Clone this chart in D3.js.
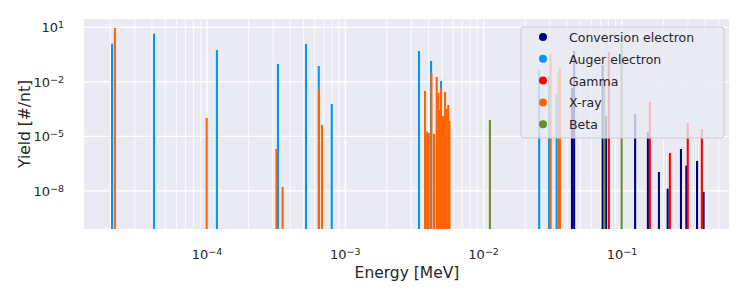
<!DOCTYPE html>
<html>
<head>
<meta charset="utf-8">
<script src="https://cdn.jsdelivr.net/npm/d3@7"></script>
<style>
  body { margin: 0; background: #fff; }
  svg text { font-family: "DejaVu Sans", sans-serif; fill: #262626; }
</style>
</head>
<body>
<svg id="chart" width="750" height="300"></svg>
<script>
// emission lines, energy in MeV and yield per nuclear transition
const convEnergy = [0.0435, 0.0451, 0.0725, 0.0767, 0.1245, 0.154, 0.185, 0.214, 0.267, 0.292, 0.349, 0.389];
const convYield  = [4.6e-3, 0.5, 0.0846, 1.33e-4, 1.71e-4, 1.75e-5, 1.11e-7, 1.34e-8, 2.04e-6, 2.46e-7, 4.47e-7, 8.9e-9];

const augerEnergy = [2.06e-5, 4.14e-5, 1.18e-4, 3.26e-4, 5.2e-4, 6.43e-4, 7.98e-4, 3.41e-3, 4.17e-3, 4.92e-3, 0.0252, 0.0297, 0.0337];
const augerYield  = [1.25, 4.45, 0.565, 0.096, 1.21, 0.0745, 6.07e-4, 0.498, 0.14, 0.0112, 0.045, 0.021, 2.15e-3];

const gammaEnergy = [0.0804, 0.159, 0.222, 0.299, 0.378];
const gammaYield  = [0.44, 7.8e-4, 1.23e-6, 5.48e-5, 2.56e-5];

const xrayEnergy = [2.16e-5, 9.95e-5, 3.18e-4, 3.52e-4, 6.45e-4, 6.79e-4,
  3.77e-3, 3.9e-3, 4.01e-3, 4.19e-3, 4.38e-3, 4.58e-3, 4.7e-3, 4.8e-3, 4.92e-3, 5.08e-3, 5.26e-3, 5.41e-3, 5.55e-3, 5.66e-3,
  0.0305, 0.0348, 0.0356];
const xrayYield = [9.2, 1.03e-4, 2.04e-6, 1.66e-8, 4.06e-3, 4.26e-5,
  3.15e-3, 1.82e-5, 1.55e-5, 0.0308, 1.36e-5, 0.0185, 2.44e-3, 2.84e-4, 4.78e-3, 1.33e-4, 2.77e-3, 3.35e-4, 5.35e-4, 7.3e-5,
  0.34, 0.032, 0.058];

const betaEnergy = [0.0111, 0.0747, 0.0995];
const betaYield  = [7.9e-5, 6.7e-3, 1.37];

const seriesNames  = ["Conversion electron", "Auger electron", "Gamma", "X-ray", "Beta"];
const seriesColors = ["#000080", "#0096ff", "#ff0000", "#ff6400", "#6b8e23"];

const xTickExps = [-4, -3, -2, -1];
const yTickExps = [1, -2, -5, -8];

const svg = d3.select("#chart");
const margin = {left: 84, top: 19, right: 20, bottom: 71};
const width = 750 - margin.left - margin.right,
      height = 300 - margin.top - margin.bottom;

const x = d3.scaleLog().domain([Math.pow(10, -4.889), Math.pow(10, -0.219)]).range([0, width]);
const y = d3.scaleLog().domain([Math.pow(10, -10.09), Math.pow(10, 1.456)]).range([height, 0]);

const g = svg.append("g").attr("transform", `translate(${margin.left},${margin.top})`);

g.append("rect").attr("width", width).attr("height", height).attr("fill", "#eaeaf2");

// minor x grid (2..9 per decade)
let minor = [];
for (let e = -5; e <= -1; e++) {
  for (let m = 2; m <= 9; m++) {
    const v = m * Math.pow(10, e);
    if (v > x.domain()[0] && v < x.domain()[1]) minor.push(v);
  }
}
g.append("g").selectAll("line").data(minor).enter().append("line")
  .attr("x1", d => x(d)).attr("x2", d => x(d))
  .attr("y1", 0).attr("y2", height)
  .attr("stroke", "#fff").attr("stroke-width", 0.8);

g.append("g").selectAll("line").data(xTickExps).enter().append("line")
  .attr("x1", d => x(Math.pow(10, d))).attr("x2", d => x(Math.pow(10, d)))
  .attr("y1", 0).attr("y2", height)
  .attr("stroke", "#fff").attr("stroke-width", 1.25);

g.append("g").selectAll("line").data(yTickExps).enter().append("line")
  .attr("y1", d => y(Math.pow(10, d))).attr("y2", d => y(Math.pow(10, d)))
  .attr("x1", 0).attr("x2", width)
  .attr("stroke", "#fff").attr("stroke-width", 1.25);

// bars, width constant in log space
const half = Math.pow(10, 0.0075);
const series = [
  [convEnergy, convYield],
  [augerEnergy, augerYield],
  [gammaEnergy, gammaYield],
  [xrayEnergy, xrayYield],
  [betaEnergy, betaYield]
];
const barsG = g.append("g");
series.forEach(function(s, i) {
  const data = s[0].map((e, j) => ({e: e, v: s[1][j]}));
  barsG.append("g").selectAll("rect").data(data).enter().append("rect")
    .attr("x", d => x(d.e / half))
    .attr("width", d => x(d.e * half) - x(d.e / half))
    .attr("y", d => y(d.v))
    .attr("height", d => height - y(d.v))
    .attr("fill", seriesColors[i]);
});

// tick labels
function powLabel(sel, exp) {
  sel.append("tspan").text("10");
  sel.append("tspan").attr("dy", "-0.45em").attr("font-size", "9.5px")
    .text(exp < 0 ? "\u2212" + Math.abs(exp) : String(exp));
}

g.append("g").selectAll("text").data(xTickExps).enter().append("text")
  .attr("x", d => x(Math.pow(10, d)))
  .attr("y", height + 30)
  .attr("text-anchor", "middle")
  .attr("font-size", "13px")
  .each(function(d) { powLabel(d3.select(this), d); });

g.append("g").selectAll("text").data(yTickExps).enter().append("text")
  .attr("x", -20)
  .attr("y", d => y(Math.pow(10, d)) + 5)
  .attr("text-anchor", "end")
  .attr("font-size", "13px")
  .each(function(d) { powLabel(d3.select(this), d); });

// axis labels
svg.append("text")
  .attr("x", margin.left + width / 2).attr("y", 278)
  .attr("text-anchor", "middle").attr("font-size", "15.5px")
  .text("Energy [MeV]");

svg.append("text")
  .attr("transform", `translate(30,${margin.top + height / 2}) rotate(-90)`)
  .attr("text-anchor", "middle").attr("font-size", "15.5px")
  .text("Yield [#/nt]");

// legend
const leg = svg.append("g").attr("transform", "translate(521,27)");
leg.append("rect")
  .attr("width", 203).attr("height", 111).attr("rx", 3)
  .attr("fill", "#eaeaf2").attr("fill-opacity", 0.8)
  .attr("stroke", "#cccccc").attr("stroke-width", 1);

const items = leg.selectAll(".item").data(seriesNames).enter().append("g")
  .attr("transform", (d, i) => `translate(0,${10 + i * 21.8})`);
items.append("circle").attr("cx", 22).attr("cy", 0).attr("r", 4)
  .attr("fill", (d, i) => seriesColors[i]);
items.append("text").attr("x", 48).attr("y", 5).attr("font-size", "12.5px").text(d => d);
</script>
</body>
</html>
